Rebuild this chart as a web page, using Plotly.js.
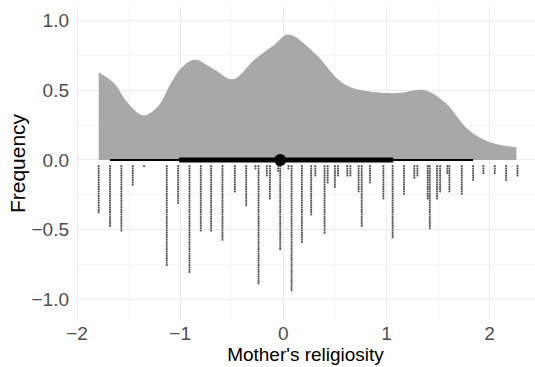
<!DOCTYPE html>
<html><head><meta charset="utf-8">
<script src="https://cdn.plot.ly/plotly-3.0.1.min.js"></script>
<style>html,body{margin:0;padding:0;background:#fff}#chart{width:535px;height:367px}</style>
</head><body><div id="chart"></div>
<script>
// Density (upper half)
const densX = [-1.79, -1.64, -1.51, -1.36, -1.22, -1.09, -0.99, -0.86, -0.67, -0.49, -0.28, -0.08, 0.045, 0.30, 0.53, 0.66, 0.85, 1.11, 1.37, 1.57, 1.79, 1.99, 2.26];
const densY = [0.63, 0.55, 0.41, 0.32, 0.38, 0.55, 0.66, 0.72, 0.65, 0.58, 0.72, 0.83, 0.90, 0.77, 0.58, 0.52, 0.49, 0.48, 0.50, 0.41, 0.22, 0.13, 0.09];
// Point interval
const medianX = -0.03;
const interval66 = [-1.01, 1.065];
const interval95 = [-1.68, 1.84];
// Dotplot columns (lower half): x position and number of dots
const dotX = [-1.79, -1.68, -1.57, -1.46, -1.35, -1.13, -1.02, -0.91, -0.80, -0.70, -0.59, -0.47, -0.36, -0.27, -0.24, -0.16, -0.13, -0.05, -0.03, 0.05, 0.08, 0.18, 0.27, 0.31, 0.40, 0.43, 0.50, 0.53, 0.62, 0.65, 0.73, 0.76, 0.84, 0.97, 1.06, 1.17, 1.27, 1.30, 1.40, 1.42, 1.49, 1.52, 1.59, 1.61, 1.73, 1.84, 1.94, 2.05, 2.16, 2.27];
const dotN = [21, 27, 29, 9, 1, 44, 17, 47, 29, 29, 33, 12, 18, 2, 52, 5, 15, 3, 37, 2, 55, 34, 22, 5, 30, 8, 10, 5, 5, 5, 12, 27, 8, 15, 32, 13, 6, 5, 15, 28, 15, 12, 4, 12, 13, 7, 4, 4, 7, 5];
const xTicks = [-2, -1, 0, 1, 2];
const yTicks = [-1.0, -0.5, 0.0, 0.5, 1.0];

const dotTop = 0.045, dotStep = 0.0165;
const dx = [], dy = [];
dotX.forEach((x, k) => { for (let i = 0; i < dotN[k]; i++) { dx.push(x); dy.push(-(dotTop + i * dotStep)); } });

const traces = [
  {x: densX, y: densY, type: 'scatter', mode: 'lines', line: {shape: 'spline', smoothing: 1, width: 0, color: '#a8a8a8'}, fill: 'tozeroy', fillcolor: '#a8a8a8', hoverinfo: 'skip'},
  {x: dx, y: dy, type: 'scatter', mode: 'markers', marker: {size: 2.2, color: '#5a5a5a'}},
  {x: interval95, y: [0, 0], type: 'scatter', mode: 'lines', line: {color: '#000', width: 2}},
  {x: interval66, y: [0, 0], type: 'scatter', mode: 'lines', line: {color: '#000', width: 5}},
  {x: [medianX], y: [0], type: 'scatter', mode: 'markers', marker: {color: '#000', size: 12}}
];
const layout = {
  width: 535, height: 367, showlegend: false,
  margin: {l: 76, r: 0, t: 7, b: 47},
  paper_bgcolor: '#fff', plot_bgcolor: '#fff',
  font: {family: 'Liberation Sans, Arial, sans-serif', color: '#4d4d4d'},
  xaxis: {range: [-2.01, 2.44], tickvals: xTicks, ticktext: xTicks.map(v => v < 0 ? '\u2212' + Math.abs(v) : String(v)),
    showgrid: true, gridcolor: '#ebebeb', gridwidth: 1, zeroline: false, showline: false, ticks: '',
    tickfont: {size: 19, color: '#4d4d4d'},
    minor: {dtick: 0.5, tick0: 0, showgrid: true, gridcolor: '#f2f2f2', gridwidth: 0.8},
    title: {text: "Mother's religiosity", font: {size: 19, color: '#000'}, standoff: 4}},
  yaxis: {range: [-1.149, 1.098], tickvals: yTicks, ticktext: yTicks.map(v => (v < 0 ? '\u2212' : '') + Math.abs(v).toFixed(1)),
    showgrid: true, gridcolor: '#ebebeb', gridwidth: 1, zeroline: false, showline: false, ticks: '',
    tickfont: {size: 19, color: '#4d4d4d'}, ticklabelstandoff: 6,
    minor: {dtick: 0.25, tick0: 0, showgrid: true, gridcolor: '#f2f2f2', gridwidth: 0.8},
    title: {text: 'Frequency', font: {size: 21, color: '#000'}, standoff: 0}}
};
Plotly.newPlot('chart', traces, layout, {displayModeBar: false, staticPlot: true});
</script></body></html>
